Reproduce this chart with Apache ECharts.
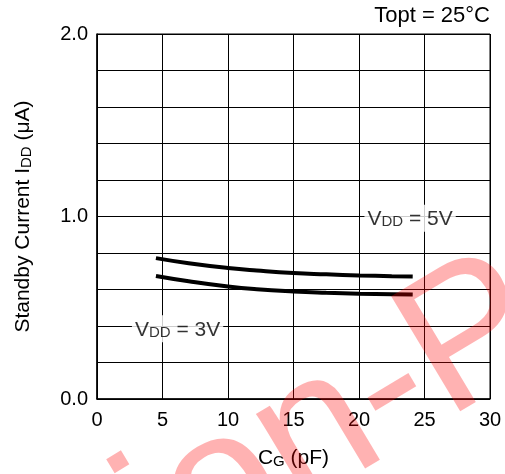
<!DOCTYPE html>
<html>
<head>
<meta charset="utf-8">
<script src="https://cdn.jsdelivr.net/npm/echarts@6/dist/echarts.min.js"></script>
<style>html,body{margin:0;padding:0;background:#fff}#c{width:505px;height:474px}</style>
</head>
<body>
<div id="c"></div>
<script>
var capX = [4.5, 7, 10, 12.2, 15, 17.5, 20, 22.5, 24.1];
var vdd5 = [0.772, 0.744, 0.718, 0.704, 0.690, 0.683, 0.677, 0.673, 0.671];
var vdd3 = [0.674, 0.645, 0.616, 0.601, 0.589, 0.582, 0.577, 0.574, 0.572];
var yTickLabels = {0: '0.0', 1: '1.0', 2: '2.0'};
var label5Pos = [23.9, 0.99];
var label3Pos = [6.15, 0.385];
var note = 'Topt = 25°C';
var watermark = 'ion-P';

var FONT = 'Liberation Sans, Arial, sans-serif';
function pairs(xs, ys) { return xs.map(function (x, i) { return [x, ys[i]]; }); }
var richV = {
  n: {fontSize: 21, fontFamily: FONT, color: '#000', verticalAlign: 'bottom', lineHeight: 23},
  s: {fontSize: 15, fontFamily: FONT, color: '#000', verticalAlign: 'bottom', lineHeight: 19.5}
};

var chart = echarts.init(document.getElementById('c'), null, {renderer: 'canvas'});
chart.setOption({
  animation: false,
  backgroundColor: '#fff',
  grid: {left: 97, right: 15, top: 34, bottom: 74, show: true, borderColor: '#000', borderWidth: 1},
  xAxis: {
    type: 'value', min: 0, max: 30, interval: 5,
    name: '{n|C}{s|G}{n| (pF)}', nameLocation: 'middle', nameGap: 47,
    nameTextStyle: {rich: richV},
    axisLine: {show: true, lineStyle: {color: '#000', width: 1.5}},
    axisTick: {show: false},
    axisLabel: {color: '#000', fontSize: 20, fontFamily: FONT, margin: 11},
    splitLine: {show: true, lineStyle: {color: '#000', width: 1}}
  },
  yAxis: {
    type: 'value', min: 0, max: 2, interval: 0.2,
    name: '{n|Standby Current I}{s|DD}{n| (μA)}', nameLocation: 'middle', nameGap: 63, nameRotate: 90,
    nameTextStyle: {rich: richV},
    axisLine: {show: true, lineStyle: {color: '#000', width: 1.5}},
    axisTick: {show: false},
    axisLabel: {
      color: '#000', fontSize: 20, fontFamily: FONT, margin: 9,
      formatter: function (v) {
        for (var k in yTickLabels) { if (Math.abs(v - Number(k)) < 1e-6) return yTickLabels[k]; }
        return '';
      }
    },
    splitLine: {show: true, lineStyle: {color: '#000', width: 1}}
  },
  series: [
    {type: 'line', data: pairs(capX, vdd5), smooth: true, showSymbol: false, silent: true,
     lineStyle: {color: '#000', width: 4}},
    {type: 'line', data: pairs(capX, vdd3), smooth: true, showSymbol: false, silent: true,
     lineStyle: {color: '#000', width: 4}},
    {type: 'scatter', symbolSize: 0, silent: true, z: 5,
     data: [label5Pos, label3Pos].map(function (p, i) { return {value: p, name: i === 0 ? '5V' : '3V'}; }),
     label: {
       show: true, position: 'inside', backgroundColor: '#fff', padding: [2, 3, 2, 3],
       formatter: function (p) { return '{n|V}{s|DD}{n| = ' + p.name + '}'; },
       rich: richV
     }}
  ],
  graphic: [
    {type: 'text', right: 15, top: 5, style: {text: note, font: '22px ' + FONT, fill: '#000'}},
    {type: 'text', x: 140, y: 541, rotation: 31 * Math.PI / 180, z: 100, silent: true,
     style: {text: watermark, font: '195px ' + FONT, fill: 'rgba(255,0,0,0.3)', textAlign: 'left', textVerticalAlign: 'middle'}}
  ]
});
</script>
</body>
</html>
